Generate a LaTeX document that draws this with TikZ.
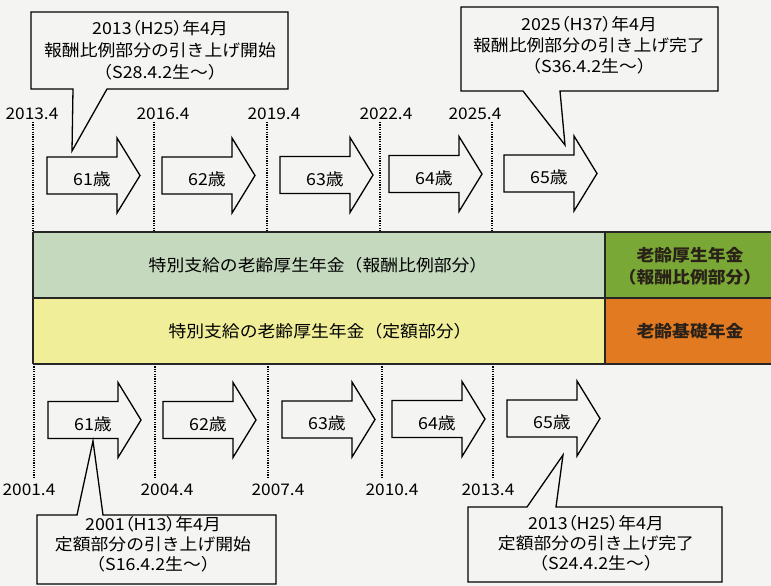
\documentclass[tikz,border=0pt]{standalone}
\usepackage{fontspec}
\setmainfont{Noto Sans CJK JP}[FakeStretch=1.08]
\newfontfamily\jpp{Noto Sans CJK JP}[FakeStretch=1.08,RawFeature=+palt]
\definecolor{bg}{HTML}{F4F4F2}
\definecolor{lgreen}{HTML}{C5D9BE}
\definecolor{dgreen}{HTML}{7AA836}
\definecolor{lyellow}{HTML}{F0EE98}
\definecolor{orangeb}{HTML}{E27A22}
\definecolor{darktxt}{HTML}{2A2218}
\tikzset{
  outl/.style={draw=black,line width=1.3pt,fill=bg,line join=miter},
  band/.style={draw=black!85,line width=1.3pt},
  dotline/.style={line width=1.1pt,dash pattern=on 1.2pt off 1.2pt,black},
  agetxt/.style={font=\fontsize{16.5}{20}\selectfont,inner sep=0pt},
  datetxt/.style={font=\fontsize{16}{20}\selectfont,inner sep=0pt},
  calltxt/.style={align=center,inner sep=0pt},
  bandtxt/.style={font=\fontsize{16.5}{20}\selectfont,inner sep=0pt},
  righttxt/.style={font=\fontsize{16.5}{22}\selectfont\bfseries,text=darktxt,align=center,inner sep=0pt}
}
\newcommand\agearrow[4]{%
  \draw[outl] (#1,#2-18.5) -- (#1+70,#2-18.5) -- (#1+70,#2-37.5) -- (#1+93,#2)
    -- (#1+70,#2+37.5) -- (#1+70,#2+18.5) -- (#1,#2+18.5) -- cycle;
  \node[agetxt] (#4) at (#1+45,#2+4) {#3};}
\begin{document}
\begin{tikzpicture}[x=1pt,y=-1pt]
\fill[bg] (0,0) rectangle (771,586);
\useasboundingbox (0,0) rectangle (771,586);

% top callouts
\draw[outl] (31,12) -- (288,12) -- (288,89) -- (107,89) -- (72,151) -- (73,89) -- (31,89) -- cycle;
\node[calltxt,font=\fontsize{16.5}{22}\selectfont] (c1) at (160,50) {{\jpp 2013（H25）年4月}\\報酬比例部分の引き上げ開始\\（S28.4.2生～）};
\draw[outl] (461,7) -- (718,7) -- (718,91) -- (560,91) -- (565,145) -- (523,91) -- (461,91) -- cycle;
\node[calltxt,font=\fontsize{16.5}{21}\selectfont] (c2) at (589,45) {{\jpp 2025（H37）年4月}\\報酬比例部分の引き上げ完了\\（S36.4.2生～）};

% top dates and dotted lines
\foreach \x/\lx/\t [count=\i] in {33/32/2013.4,154/163/2016.4,267/274/2019.4,380/386/2022.4,492/475/2025.4}{
  \node[datetxt] (td\i) at (\lx,114) {\t};
  \coordinate (tda\i) at (\x,122);
  \coordinate (tdb\i) at (\x,232);
  \draw[dotline] (tda\i) -- (tdb\i);
}

% bottom dates and dotted lines
\foreach \x/\lx/\t [count=\i] in {34/29/2001.4,155/167/2004.4,268/278/2007.4,382/392/2010.4,493/488/2013.4}{
  \node[datetxt] (bd\i) at (\lx,490) {\t};
  \coordinate (bda\i) at (\x,364);
  \coordinate (bdb\i) at (\x,478);
  \draw[dotline] (bda\i) -- (bdb\i);
}

% top arrows
\agearrow{47}{175.5}{61歳}{ta1}
\agearrow{162}{175.5}{62歳}{ta2}
\agearrow{280}{175}{63歳}{ta3}
\agearrow{389}{174}{64歳}{ta4}
\agearrow{504}{173.5}{65歳}{ta5}

% bands
\fill[lgreen] (33,232) rectangle (605,298);
\fill[dgreen] (605,232) rectangle (771,298);
\fill[lyellow] (33,298) rectangle (605,364);
\fill[orangeb] (605,298) rectangle (771,364);
\draw[band] (33,232) -- (771,232);
\draw[band] (33,298) -- (771,298);
\draw[band] (33,364) -- (771,364);
\draw[band] (33,232) -- (33,364);
\draw[band] (605,232) -- (605,364);
\node[bandtxt] (b1) at (318,265) {特別支給の老齢厚生年金（報酬比例部分）};
\node[bandtxt] (b2) at (320,331) {特別支給の老齢厚生年金（定額部分）};
\node[righttxt] (r1) at (690,266) {老齢厚生年金\\（報酬比例部分）};
\node[righttxt] (r2) at (690,331) {老齢基礎年金};

% bottom arrows
\agearrow{48}{420}{61歳}{ba1}
\agearrow{163}{420}{62歳}{ba2}
\agearrow{282}{419.5}{63歳}{ba3}
\agearrow{392}{419}{64歳}{ba4}
\agearrow{507}{418.5}{65歳}{ba5}

% bottom callouts
\draw[outl] (37,515) -- (77,515) -- (93,441) -- (103,515) -- (276,515) -- (276,584) -- (37,584) -- cycle;
\node[calltxt,font=\fontsize{16.5}{20}\selectfont] (c3) at (153,544) {{\jpp 2001（H13）年4月}\\定額部分の引き上げ開始\\（S16.4.2生～）};
\draw[outl] (468,507) -- (527,507) -- (563,455) -- (556,507) -- (722,507) -- (722,582) -- (468,582) -- cycle;
\node[calltxt,font=\fontsize{16.5}{20}\selectfont] (c4) at (596,543) {{\jpp 2013（H25）年4月}\\定額部分の引き上げ完了\\（S24.4.2生～）};
\end{tikzpicture}
\end{document}
